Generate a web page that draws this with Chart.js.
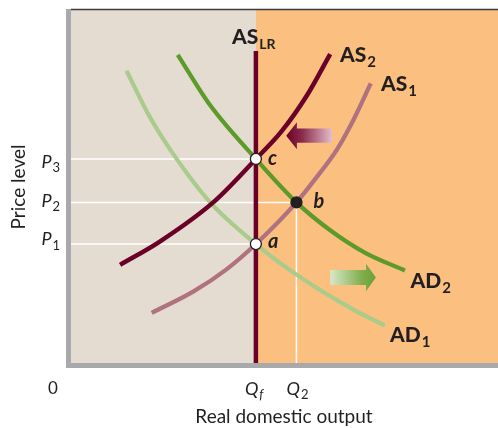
<!DOCTYPE html>
<html>
<head>
<meta charset="utf-8">
<script src="https://cdn.jsdelivr.net/npm/chart.js@4"></script>
<style>
  html, body { margin: 0; padding: 0; background: #ffffff; }
  canvas { display: block; }
</style>
</head>
<body>
<canvas id="c" width="498" height="428"></canvas>
<script>
// ---- Data (conceptual units, 0..100 on both axes) ----
const Qf = 43.3, Q2 = 52.8;
const P3 = 57.8, P2 = 45.5, P1 = 33.7;
const asLRTop = 88.4;

const AS2x = [11.5, 20.8, 33.3, 43.3, 49.3, 55.2, 60.7];
const AS2y = [27.8, 34.4, 45.5, 57.8, 65.6, 75.7, 87.5];

const AS1x = [18.9, 28.6, 36.5, 43.3, 52.8, 57.5, 62.2, 66.2, 70.2];
const AS1y = [14.2, 20.2, 26.6, 33.7, 45.5, 52.6, 60.3, 69.0, 79.2];

const AD2x = [25.0, 32.6, 43.3, 52.8, 60.7, 68.9, 78.2];
const AD2y = [87.3, 73.0, 57.8, 45.5, 37.6, 31.2, 26.2];

const AD1x = [13.0, 18.5, 24.0, 32.6, 43.3, 51.3, 59.1, 66.9, 73.5];
const AD1y = [82.8, 69.6, 59.1, 45.5, 33.7, 26.3, 20.1, 14.6, 10.6];

const eqLabels = ['c', 'b', 'a'];
const eqX = [Qf, Q2, Qf];
const eqY = [P3, P2, P1];

const pts = (xs, ys) => xs.map((x, i) => ({ x: x, y: ys[i] }));

const FONT = 'Lato, "Open Sans", sans-serif';
const INK = '#231f20';

function sub(ctx, main, s, x, y, mainFont, subFont, dy) {
  ctx.font = mainFont;
  ctx.fillText(main, x, y);
  const w = ctx.measureText(main).width;
  ctx.font = subFont;
  ctx.fillText(s, x + w + 1, y + dy);
}

function arrow(ctx, tipX, baseX, tailX, cy, headH, bodyH, grad) {
  ctx.fillStyle = grad;
  ctx.beginPath();
  ctx.moveTo(tipX, cy);
  ctx.lineTo(baseX, cy - headH);
  ctx.lineTo(baseX, cy - bodyH);
  ctx.lineTo(tailX, cy - bodyH);
  ctx.lineTo(tailX, cy + bodyH);
  ctx.lineTo(baseX, cy + bodyH);
  ctx.lineTo(baseX, cy + headH);
  ctx.closePath();
  ctx.fill();
}

const decor = {
  id: 'decor',
  beforeDatasetsDraw(chart) {
    const ctx = chart.ctx, a = chart.chartArea;
    const X = v => chart.scales.x.getPixelForValue(v);
    ctx.save();
    ctx.fillStyle = '#e5dcd1';
    ctx.fillRect(a.left, a.top, X(Qf) - a.left, a.bottom - a.top);
    ctx.fillStyle = '#fbc07f';
    ctx.fillRect(X(Qf), a.top, a.right - X(Qf), a.bottom - a.top);
    ctx.restore();
  },
  afterDatasetsDraw(chart) {
    const ctx = chart.ctx, a = chart.chartArea;
    const X = v => chart.scales.x.getPixelForValue(v);
    const Y = v => chart.scales.y.getPixelForValue(v);
    ctx.save();
    // axes frame
    ctx.fillStyle = '#a7a9ac';
    ctx.fillRect(a.left - 5, a.top - 1, 5, a.bottom - a.top + 6);
    ctx.fillRect(a.left - 5, a.bottom, a.right - a.left + 5, 5);
    ctx.strokeStyle = '#3a3a3a';
    ctx.lineWidth = 1.5;
    ctx.beginPath();
    ctx.moveTo(a.left, a.top - 0.5);
    ctx.lineTo(a.right, a.top - 0.5);
    ctx.stroke();

    // shift arrows
    let g = ctx.createLinearGradient(X(50.4), 0, X(61.1), 0);
    g.addColorStop(0, '#6a0027');
    g.addColorStop(0.35, '#8a2c4c');
    g.addColorStop(1, '#e6bccb');
    arrow(ctx, X(50.4), X(52.9), X(61.1), Y(64.4), 13.5, 7.2, g);
    g = ctx.createLinearGradient(X(60.7), 0, X(71.4), 0);
    g.addColorStop(0, '#dbe7c9');
    g.addColorStop(0.7, '#7fae4c');
    g.addColorStop(1, '#6aa036');
    arrow(ctx, X(71.4), X(69.1), X(60.7), Y(24.2), 13.8, 7.5, g);

    ctx.fillStyle = INK;
    ctx.textBaseline = 'alphabetic';
    ctx.textAlign = 'left';
    const big = '900 21px ' + FONT, small = 'bold 15px ' + FONT;
    sub(ctx, 'AS', 'LR', 232, 43.5, big, 'bold 14px ' + FONT, 5);
    sub(ctx, 'AS', '2', 340, 62, big, small, 5);
    sub(ctx, 'AS', '1', 381, 90.5, big, small, 5);
    sub(ctx, 'AD', '2', 410.5, 287.5, big, small, 5);
    sub(ctx, 'AD', '1', 390, 341.5, big, small, 5);

    // equilibrium labels
    ctx.font = 'italic bold 20px ' + FONT;
    const lblDx = [12, 17, 12], lblDy = [6, 6, 4];
    eqLabels.forEach((t, i) => ctx.fillText(t, X(eqX[i]) + lblDx[i], Y(eqY[i]) + lblDy[i]));

    // price-level tick labels
    const pNames = ['3', '2', '1'], pVals = [P3, P2, P1], pDy = [9, 4.5, 1];
    pVals.forEach((v, i) => sub(ctx, 'P', pNames[i], 41.5, Y(v) + pDy[i], 'italic 18px ' + FONT, '13px ' + FONT, 4.5));

    // output tick labels
    ctx.font = '17px ' + FONT;
    ctx.fillText('0', 48, 393.5);
    sub(ctx, 'Q', 'f', X(Qf) - 11, 394.5, 'italic 18px ' + FONT, 'italic 13px ' + FONT, 4);
    sub(ctx, 'Q', '2', X(Q2) - 10, 394.5, 'italic 18px ' + FONT, '13px ' + FONT, 4);

    // axis titles
    ctx.font = '19px ' + FONT;
    ctx.textAlign = 'center';
    ctx.fillText('Real domestic output', 284, 423);
    ctx.translate(25, 187);
    ctx.rotate(-Math.PI / 2);
    ctx.fillText('Price level', 0, 0);
    ctx.restore();
  }
};

const guide = (data) => ({ data, showLine: true, borderColor: '#ffffff', borderWidth: 1.5, pointRadius: 0, order: 9 });
const curve = (data, color, w) => ({ data, showLine: true, borderColor: color, borderWidth: w, pointRadius: 0, cubicInterpolationMode: 'monotone', borderCapStyle: 'butt', fill: false });

new Chart(document.getElementById('c'), {
  type: 'scatter',
  data: {
    datasets: [
      Object.assign({ data: pts(eqX, eqY), pointRadius: 5.5, pointHoverRadius: 5.5,
        pointBackgroundColor: ['#ffffff', INK, '#ffffff'], pointBorderColor: INK, pointBorderWidth: 1.3, showLine: false }, { order: 0 }),
      Object.assign({ data: [{ x: Qf, y: 0 }, { x: Qf, y: asLRTop }], showLine: true, borderColor: '#6a0027', borderWidth: 4.5, pointRadius: 0, borderCapStyle: 'butt' }, { order: 1 }),
      Object.assign(curve(pts(AS2x, AS2y), '#6a0027', 4.5), { order: 2 }),
      Object.assign(curve(pts(AD2x, AD2y), '#5c9a2b', 4.2), { order: 3 }),
      Object.assign(curve(pts(AS1x, AS1y), '#b1727f', 4.3), { order: 4 }),
      Object.assign(curve(pts(AD1x, AD1y), '#a9cb8b', 4.2), { order: 5 }),
      guide([{ x: 0, y: P3 }, { x: Qf, y: P3 }]),
      guide([{ x: 0, y: P2 }, { x: Q2, y: P2 }]),
      guide([{ x: 0, y: P1 }, { x: Qf, y: P1 }]),
      guide([{ x: Q2, y: 0 }, { x: Q2, y: P2 }])
    ]
  },
  options: {
    responsive: false,
    animation: false,
    events: [],
    layout: { autoPadding: false, padding: { left: 71, top: 10, right: 0, bottom: 65 } },
    plugins: { legend: { display: false }, tooltip: { enabled: false }, title: { display: false } },
    scales: {
      x: { type: 'linear', min: 0, max: 100, display: false },
      y: { type: 'linear', min: 0, max: 100, display: false }
    }
  },
  plugins: [decor]
});
</script>
</body>
</html>
